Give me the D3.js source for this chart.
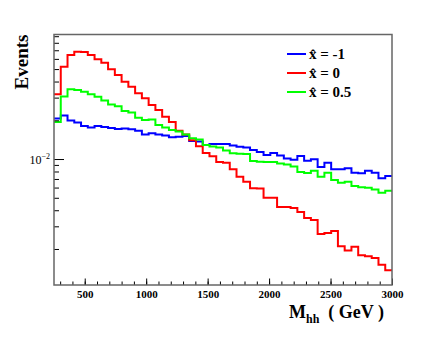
<!DOCTYPE html>
<html>
<head>
<meta charset="utf-8">
<script src="https://cdn.jsdelivr.net/npm/d3@7"></script>
<style>
body { margin: 0; background: #fff; }
svg { display: block; }
text { font-family: "Liberation Serif", "DejaVu Serif", serif; }
</style>
</head>
<body>
<svg id="svg" width="436" height="354"></svg>
<script>
// bins: 50 bins of 55 GeV from 250 to 3000
var binLow = d3.range(250, 3000, 55);

var xhatM1 = [0.02065,0.02178,0.01991,0.01921,0.01805,0.01757,0.01805,0.01773,0.01741,0.01710,
  0.01726,0.01701,0.01659,0.01550,0.01584,0.01550,0.01522,0.01474,0.01490,0.01509,
  0.01380,0.01368,0.01285,0.01308,0.01308,0.01308,0.01273,0.01246,0.01228,0.01175,
  0.01133,0.01074,0.01113,0.01065,0.01009,0.00988,0.01055,0.00970,0.00995,0.00867,
  0.00936,0.00832,0.00832,0.00847,0.00783,0.00774,0.00811,0.00783,0.00708,0.00738];

var xhat0 = [0.0318,0.0521,0.0643,0.0682,0.0680,0.0643,0.0595,0.0560,0.0498,0.0449,
  0.0399,0.0365,0.0324,0.0296,0.0263,0.0240,0.0213,0.0194,0.0166,0.0155,
  0.0140,0.01255,0.01113,0.01049,0.00948,0.00936,0.00832,0.00729,0.00666,0.00592,
  0.00590,0.00500,0.00500,0.00424,0.00424,0.00416,0.00388,0.00348,0.00336,0.00261,
  0.00266,0.00276,0.00210,0.00195,0.00208,0.00179,0.00176,0.00170,0.00151,0.00137];

var xhat05 = [0.01939,0.03059,0.03480,0.03437,0.03334,0.03183,0.03049,0.02848,0.02652,0.02568,
  0.02360,0.02298,0.02094,0.02009,0.02027,0.01837,0.01757,0.01680,0.01636,0.01550,
  0.01448,0.01418,0.01285,0.01251,0.01228,0.01164,0.01107,0.01097,0.01094,0.00965,
  0.00953,0.00948,0.00948,0.00923,0.00906,0.00874,0.00793,0.00778,0.00811,0.00729,
  0.00783,0.00687,0.00655,0.00666,0.00617,0.00603,0.00598,0.00581,0.00547,0.00567];

var seriesNames = ["-1", "0", "0.5"];
var seriesColors = ["#0000ff", "#ff0000", "#00ff00"];
var xTicks = [500, 1000, 1500, 2000, 2500, 3000];
var xMinor = d3.range(300, 3000, 100);
var yMinor = [0.002,0.003,0.004,0.005,0.006,0.007,0.008,0.009,0.02,0.03,0.04,0.05,0.06,0.07,0.08,0.09];

var svg = d3.select("#svg");
var x = d3.scaleLinear().domain([250, 3000]).range([54, 392]);
var y = d3.scaleLog().domain([0.00105, 0.0928]).range([285, 34.5]);

// histograms
var line = d3.line()
  .x(function(d){ return x(d[0]); })
  .y(function(d){ return y(d[1]); })
  .curve(d3.curveStepAfter);

[xhatM1, xhat0, xhat05].forEach(function(vals, i){
  var pts = binLow.map(function(b, k){ return [b, vals[k]]; });
  pts.push([3000, vals[vals.length-1]]);
  svg.append("path")
    .attr("d", line(pts))
    .style("fill", "none")
    .style("stroke", seriesColors[i])
    .style("stroke-width", 2);
});

// x axis
var xAxis = svg.append("g").attr("transform", "translate(0,285)");
xAxis.call(d3.axisBottom(x).tickValues(xTicks).tickSize(-6.5).tickPadding(5).tickFormat(d3.format("d")));
xAxis.append("g").call(d3.axisBottom(x).tickValues(xMinor).tickSize(-3.5).tickFormat(""));
xAxis.selectAll(".domain").remove();
xAxis.selectAll("text")
  .style("font-family", "'Liberation Serif', serif")
  .style("font-weight", "bold")
  .style("font-size", "11px")
  .attr("fill", "#000");

// y axis
var yAxis = svg.append("g").attr("transform", "translate(54,0)");
yAxis.call(d3.axisLeft(y).tickValues([0.01]).tickSize(-10).tickFormat(""));
yAxis.append("g").call(d3.axisLeft(y).tickValues(yMinor).tickSize(-5).tickFormat(""));
yAxis.selectAll(".domain").remove();

var yl = svg.append("text")
  .attr("x", 50).attr("y", y(0.01) + 4.5)
  .attr("text-anchor", "end")
  .style("font-size", "12px");
yl.append("tspan").text("10");
yl.append("tspan").attr("dy", -5).style("font-size", "8px").text("\u22122");

// frame
svg.append("rect")
  .attr("x", 54).attr("y", 34.5)
  .attr("width", 338).attr("height", 250.5)
  .style("fill", "none")
  .style("stroke", "#666")
  .style("stroke-width", 1.5);

// titles
svg.append("text")
  .attr("transform", "translate(28,62) rotate(-90)")
  .attr("text-anchor", "middle")
  .style("font-weight", "bold")
  .style("font-size", "19px")
  .text("Events");

var xt = svg.append("text")
  .attr("x", 384).attr("y", 318)
  .attr("text-anchor", "end")
  .style("font-weight", "bold")
  .style("font-size", "18px");
xt.append("tspan").text("M");
xt.append("tspan").attr("dy", 5).style("font-size", "12px").text("hh");
xt.append("tspan").attr("dy", -5).text("\u00a0\u00a0( GeV )");

// legend
var legY = [54, 73, 92];
seriesNames.forEach(function(n, i){
  svg.append("line")
    .attr("x1", 287).attr("x2", 306)
    .attr("y1", legY[i]).attr("y2", legY[i])
    .style("stroke", seriesColors[i])
    .style("stroke-width", 2);
  svg.append("text")
    .attr("x", 309).attr("y", legY[i] + 5)
    .style("font-weight", "bold")
    .style("font-size", "15px")
    .text("x\u0302 = " + n);
});
</script>
</body>
</html>
